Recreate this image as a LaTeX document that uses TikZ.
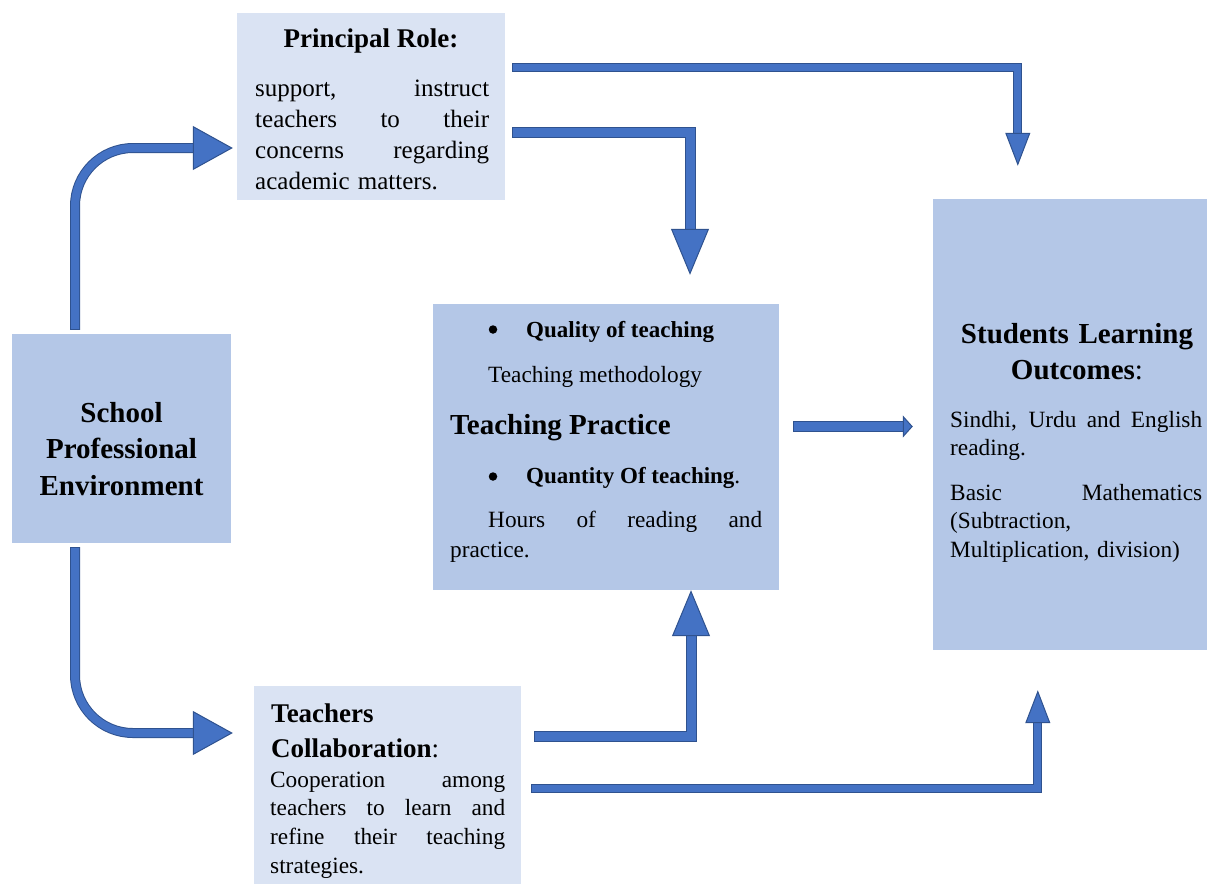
\documentclass[tikz,border=0pt]{standalone}
\usepackage{fontspec}
\setmainfont{Liberation Serif}
\usetikzlibrary{arrows.meta}

\definecolor{boxdark}{HTML}{B4C7E7}
\definecolor{boxlight}{HTML}{DAE3F3}
\definecolor{arrowfill}{HTML}{4472C4}
\definecolor{arrowline}{HTML}{2F528F}

% one justified line, spaces stretched out to the given width
\newcommand{\fillline}[2][\hsize]{\makebox[#1]{\spaceskip=0.25em plus 1fill\relax #2}}

\tikzset{
  darkbox/.style={fill=boxdark, draw=none, inner sep=0pt},
  lightbox/.style={fill=boxlight, draw=none, inner sep=0pt},
  headtext/.style={inner sep=0pt, font=\bfseries\fontsize{29}{36.5}\selectfont},
  bodytext/.style={inner sep=0pt, anchor=base west, align=left, font=\fontsize{23.3}{28.7}\selectfont},
  dot/.style={circle, fill=black, inner sep=0pt, minimum size=8.5pt},
  flow/.style n args={3}{draw=arrowline, line width=1pt, line cap=rect, double=arrowfill, double distance=#1,
    -{Triangle[length=#2, width=#3, fill=arrowfill, line width=1pt]}},
}

\begin{document}
\begin{tikzpicture}[x=1pt,y=-1pt]
        \useasboundingbox (0,0) rectangle (1207,884);
        % boxes
        \node[lightbox, minimum width=268pt, minimum height=187pt] (role) at (371,106.5) {};
        \node[darkbox, minimum width=219pt, minimum height=209pt] (school) at (121.5,438.5) {};
        \node[darkbox, minimum width=346pt, minimum height=286pt] (practice) at (606,447) {};
        \node[darkbox, minimum width=274pt, minimum height=451pt] (outcomes) at (1070,424.5) {};
        \node[lightbox, minimum width=267pt, minimum height=198pt] (collab) at (387.5,785) {};

        % texts
        \node[headtext, font=\bfseries\fontsize{27}{34}\selectfont, anchor=base] (roletitle) at (371,47) {Principal Role:};
        \node[bodytext, text width=234pt, font=\fontsize{25}{31}\selectfont] (roletext) at (255,96.5)
          {\fillline{support, instruct}\\ \fillline{teachers to their}\\ \fillline{concerns regarding}\\ academic matters.};

        \node[headtext, text width=210pt, align=center, anchor=base] (schooltext) at (121.5,422)
          {School\\ Professional\\ Environment};

        \node[dot] (qualitydot) at (493,329.5) {};
        \node[bodytext, font=\bfseries\fontsize{23}{28}\selectfont] (quality) at (526,337) {Quality of teaching};
        \node[bodytext] (method) at (488,382) {Teaching methodology};
        \node[headtext, anchor=base west] (practicetext) at (450,434) {Teaching Practice};
        \node[dot] (quantitydot) at (493,476.5) {};
        \node[bodytext] (quantity) at (526,483) {{\bfseries\fontsize{23}{28}\selectfont Quantity Of teaching}.};
        \node[bodytext, text width=312pt, font=\fontsize{23.3}{30}\selectfont] (hours) at (450,527)
          {\hspace*{38pt}\fillline[274pt]{Hours of reading and}\\ practice.};

        \node[headtext, text width=260pt, align=center, anchor=base] (outcometitle) at (1077,343)
          {Students Learning\\ Outcomes{\normalfont :}};
        \node[bodytext, text width=252pt, font=\fontsize{23.3}{28}\selectfont] (reading) at (950,427)
          {\fillline{Sindhi, Urdu and English}\\ reading.};
        \node[bodytext, text width=252pt, font=\fontsize{23.3}{28.5}\selectfont] (maths) at (950,500)
          {\fillline{Basic Mathematics}\\ (Subtraction,\\ Multiplication, division)};

        \node[headtext, font=\bfseries\fontsize{27}{35}\selectfont, text width=240pt, align=left, anchor=base west] (collabtitle) at (271,722)
          {Teachers\\ Collaboration{\normalfont :}};
        \node[bodytext, text width=235pt] (collabtext) at (270,787)
          {\fillline{Cooperation among}\\ \fillline{teachers to learn and}\\ \fillline{refine their teaching}\\ strategies.};

        % arrows
        \draw[flow={8pt}{40pt}{44pt}, rounded corners=58pt] ([shift={(-46.5,-9)}]school.north) |- ([shift={(-4,41.5)}]role.west);
        \draw[flow={8pt}{40pt}{44pt}, rounded corners=58pt] ([shift={(-46.5,9)}]school.south) |- ([shift={(-21,-52)}]collab.west);
        \draw[flow={7pt}{33pt}{25pt}] ([shift={(11.5,54.5)}]role.north east) -| ([shift={(85,-33)}]outcomes.north west);
        \draw[flow={9pt}{46pt}{38pt}] ([shift={(12.5,119.5)}]role.north east) -| ([shift={(84,-29)}]practice.north);
        \draw[flow={9pt}{46pt}{38pt}] ([shift={(18.5,51)}]collab.north east) -| ([shift={(85,0)}]practice.south);
        \draw[flow={7pt}{33pt}{25pt}] ([shift={(14.5,103)}]collab.north east) -| ([shift={(105,40)}]outcomes.south west);
        \draw[flow={8.5pt}{10pt}{22pt}] ([shift={(19,-20.5)}]practice.east) -- ([shift={(-20,2)}]outcomes.west);
      \end{tikzpicture}
\end{document}
